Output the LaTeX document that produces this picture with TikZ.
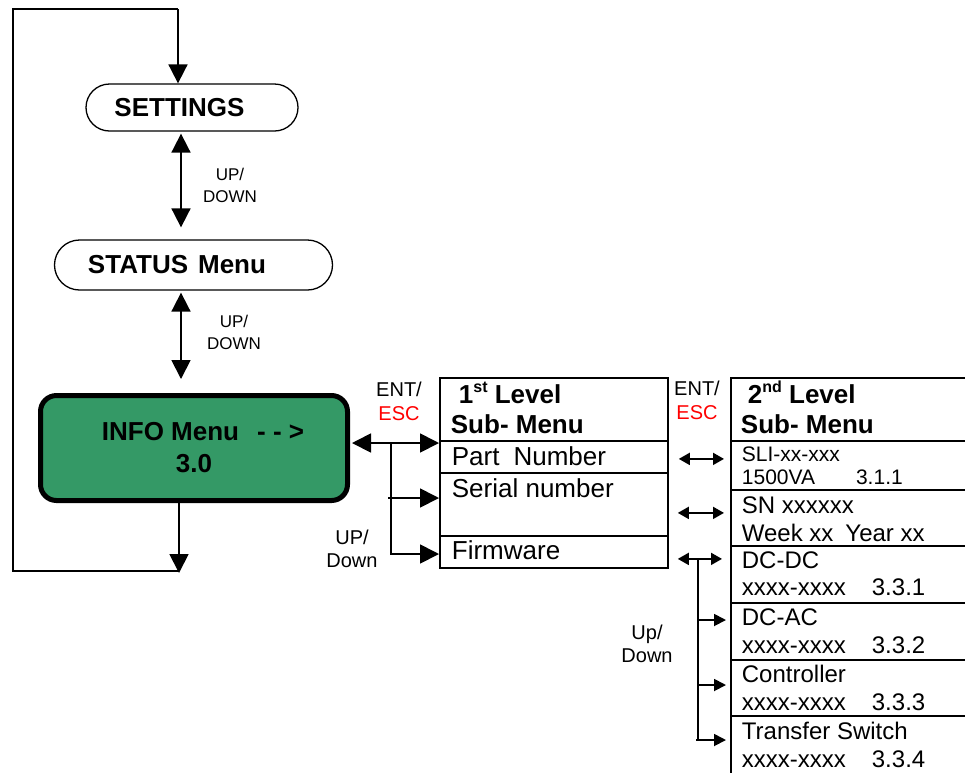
\documentclass[tikz,border=0pt]{standalone}
\usepackage{fontspec}
\setmainfont{Liberation Sans}
\usetikzlibrary{arrows.meta,calc}
\definecolor{infogreen}{RGB}{52,153,102}
\definecolor{escred}{RGB}{255,0,0}
\newcommand\fsHead{\fontsize{26}{30}\selectfont\bfseries}
\newcommand\fsRow{\fontsize{26}{30}\selectfont}
\newcommand\fsRowB{\fontsize{24}{28}\selectfont}
\newcommand\fsSm{\fontsize{21}{24}\selectfont}
\newcommand\fsLab{\fontsize{20}{24}\selectfont}
\newcommand\fsLabS{\fontsize{17}{20}\selectfont}
\newcommand\supst[1]{\raisebox{11pt}{\fontsize{16}{16}\selectfont #1}}
\begin{document}
\begin{tikzpicture}[x=1pt,y=-1pt,line width=1.8pt,
  oval/.style={draw,line width=1.3pt,rounded corners=23.5pt,inner sep=0pt,font=\fsHead},
  infobox/.style={draw,line width=5pt,fill=infogreen,rounded corners=16pt,
    minimum width=307pt,minimum height=105pt,align=center,font=\fsHead,inner sep=0pt},
  rowbox/.style={draw,line width=1.8pt,anchor=north west,inner sep=0pt},
  txt/.style={anchor=base west,inner sep=0pt},
  ctxt/.style={anchor=base,inner sep=0pt},
  big/.style={-{Triangle[length=19pt,width=19pt]}},
  bigdbl/.style={{Triangle[length=19pt,width=19pt]}-{Triangle[length=19pt,width=19pt]}},
  sm/.style={-{Triangle[length=12pt,width=12pt]}},
  smdbl/.style={{Triangle[length=11pt,width=12pt]}-{Triangle[length=11pt,width=12pt]}}
]
\useasboundingbox (0,0) rectangle (965,772);

% main column
\node[oval,minimum width=212pt,minimum height=47pt] (settings) at (192,107.5) {SETTINGS\hspace*{25pt}\mbox{}};
\node[oval,minimum width=278pt,minimum height=50pt,rounded corners=25pt] (status) at (193.5,265) {STATUS\hspace{10pt}Menu\hspace*{33pt}\mbox{}};
\node[infobox] (info) at (194,448) {\hspace*{18pt}INFO Menu\hspace{18pt}- - >\\[2pt]3.0};

% loop
\coordinate (lt) at (13,9);
\coordinate (lb) at (13,571);
\coordinate (a0) at (179,573);
\coordinate (sa) at (178,9);
\draw[big] (info.south -| a0) -- (a0);
\draw (a0 |- lb) -- (lb) -- (lt) -- (sa);
\draw[big] (sa) -- (sa |- settings.north);

% up/down arrows
\draw[bigdbl] ([xshift=-11pt,yshift=-2pt]settings.south) -- ([xshift=-12.5pt,yshift=12pt]status.north);
\draw[bigdbl] ([xshift=-12.5pt,yshift=-2pt]status.south) -- ([xshift=-13pt,yshift=14pt]info.north);
\node[ctxt,font=\fsLabS] (ud1a) at (230,180) {UP/};
\node[ctxt,font=\fsLabS] (ud1b) at (230,202) {DOWN};
\node[ctxt,font=\fsLabS] (ud2a) at (234,327) {UP/};
\node[ctxt,font=\fsLabS] (ud2b) at (234,349) {DOWN};

% first level box
\node[rowbox,minimum width=228pt,minimum height=63pt] (h1) at (439,377) {};
\node[rowbox,minimum width=228pt,minimum height=32pt] (p1) at (439,440) {};
\node[rowbox,minimum width=228pt,minimum height=63pt] (s1) at (439,472) {};
\node[rowbox,minimum width=228pt,minimum height=32pt] (f1) at (439,535) {};
\node[txt,font=\fsHead] (h1a) at (458,403) {1\supst{st} Level};
\node[txt,font=\fsHead] (h1b) at (450,433) {Sub- Menu};
\node[txt,font=\fsRow] (p1t) at (451,465) {Part\hspace{14pt}Number};
\node[txt,font=\fsRow] (s1t) at (451,497) {Serial number};
\node[txt,font=\fsRow] (f1t) at (451,559) {Firmware};

% info <-> first level
\draw[bigdbl] ([xshift=2pt,yshift=5pt]info.east) -- ([yshift=5pt]info.east -| p1.west);
\coordinate (br) at (391,443);
\coordinate (br1) at (391,554);
\coordinate (br2) at (388,498);
\draw[big] (br) -- (br1) -- (br1 -| f1.west);
\draw[big] (br2) -- (br2 -| s1.west);
\node[ctxt,font=\fsLab] (ent1a) at (399,396) {ENT/};
\node[ctxt,font=\fsLab,text=escred] (ent1b) at (399,420) {ESC};
\node[ctxt,font=\fsLab] (ud3a) at (352,544) {UP/};
\node[ctxt,font=\fsLab] (ud3b) at (352,567) {Down};

% second level box
\node[rowbox,minimum width=250pt,minimum height=63pt] (h2) at (730,377) {};
\node[rowbox,minimum width=250pt,minimum height=49pt] (r1) at (730,440) {};
\node[rowbox,minimum width=250pt,minimum height=56pt] (r2) at (730,489) {};
\node[rowbox,minimum width=250pt,minimum height=57pt] (r3) at (730,545) {};
\node[rowbox,minimum width=250pt,minimum height=57pt] (r4) at (730,602) {};
\node[rowbox,minimum width=250pt,minimum height=56pt] (r5) at (730,659) {};
\node[rowbox,minimum width=250pt,minimum height=70pt] (r6) at (730,715) {};
\node[txt,font=\fsHead] (h2a) at (747,403) {2\supst{nd} Level};
\node[txt,font=\fsHead] (h2b) at (740,433) {Sub- Menu};
\node[txt,font=\fsSm] (r1a) at (741,461) {SLI-xx-xxx};
\node[txt,font=\fsSm] (r1b) at (741,484) {1500VA\hspace{41pt}3.1.1};
\node[txt,font=\fsRowB] (r2a) at (741,513) {SN xxxxxx};
\node[txt,font=\fsRowB] (r2b) at (741,541) {Week xx\hspace{12pt}Year xx};
\node[txt,font=\fsRowB] (r3a) at (741,568) {DC-DC};
\node[txt,font=\fsRowB] (r3b) at (741,595) {xxxx-xxxx\hspace{26pt}3.3.1};
\node[txt,font=\fsRowB] (r4a) at (741,625) {DC-AC};
\node[txt,font=\fsRowB] (r4b) at (741,653) {xxxx-xxxx\hspace{26pt}3.3.2};
\node[txt,font=\fsRowB] (r5a) at (741,682) {Controller};
\node[txt,font=\fsRowB] (r5b) at (741,710) {xxxx-xxxx\hspace{26pt}3.3.3};
\node[txt,font=\fsRowB] (r6a) at (741,739) {Transfer Switch};
\node[txt,font=\fsRowB] (r6b) at (741,767) {xxxx-xxxx\hspace{26pt}3.3.4};

% first <-> second level
\draw[smdbl] ($(p1.east)+(10,2)$) -- ($(r1.west |- p1.east)+(-6,2)$);
\draw[smdbl] ($(s1.east)+(9,8.5)$) -- ($(r2.west |- s1.east)+(-6,8.5)$);
\draw[smdbl] ($(f1.east)+(9,7)$) -- ($(r3.west |- f1.east)+(-8,7)$);
\coordinate (vt) at (698,558);
\coordinate (vb) at (698,740);
\draw (vt) -- (vb);
\draw[sm] ($(vt)+(0,62)$) -- ($(r4.west |- vt)+(-4,62)$);
\draw[sm] ($(vt)+(0,127)$) -- ($(r5.west |- vt)+(-4,127)$);
\draw[sm] ($(vb)+(-2,0)$) -- ($(r6.west |- vb)+(-4,0)$);
\node[ctxt,font=\fsLab] (ent2a) at (697,395) {ENT/};
\node[ctxt,font=\fsLab,text=escred] (ent2b) at (697,419) {ESC};
\node[ctxt,font=\fsLab] (ud4a) at (647,639) {Up/};
\node[ctxt,font=\fsLab] (ud4b) at (647,662) {Down};
\end{tikzpicture}
\end{document}
